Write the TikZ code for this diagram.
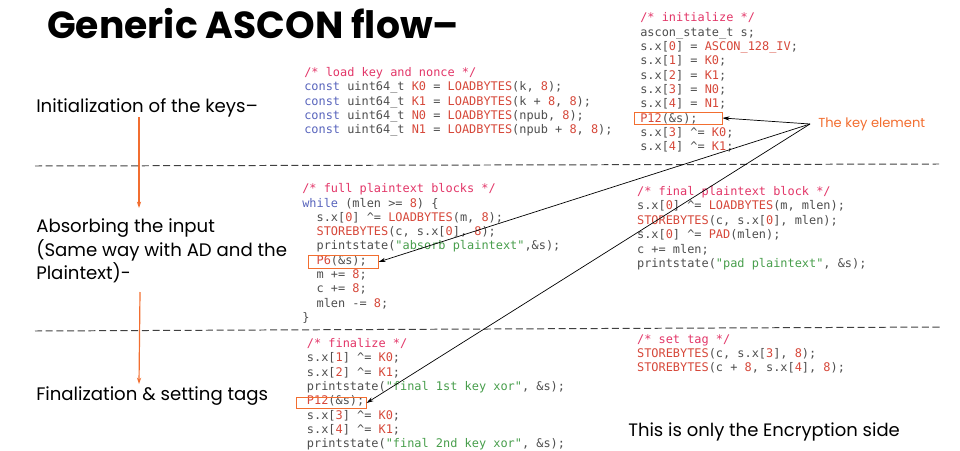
\documentclass[tikz,border=0pt]{standalone}
\usepackage{fontspec}
\setmainfont{Poppins}
\newfontfamily\codefont{DejaVu Sans Mono}
\usetikzlibrary{arrows.meta}

\definecolor{ccomment}{RGB}{226,54,104}
\definecolor{ckeyword}{RGB}{88,100,188}
\definecolor{cred}{RGB}{214,72,58}
\definecolor{cstring}{RGB}{72,158,76}
\definecolor{cplain}{RGB}{78,78,78}
\definecolor{corange}{RGB}{242,110,48}

\newcommand\ccom[1]{\textcolor{ccomment}{#1}}
\newcommand\ckw[1]{\textcolor{ckeyword}{#1}}
\newcommand\cnum[1]{\textcolor{cred}{#1}}
\newcommand\cstr[1]{\textcolor{cstring}{#1}}
\newcommand\ind{\hphantom{xx}}
\newcommand\xoreq{\textasciicircum=}

\tikzset{
  code/.style={anchor=base west,inner sep=0pt,text=cplain,
    font=\codefont\fontsize{8.47pt}{10pt}\selectfont},
  label/.style={anchor=base west,inner sep=0pt,font=\fontsize{12.9pt}{16.7pt}\selectfont},
  keybox/.style={draw=corange,line width=0.7pt,inner sep=0pt},
  keyarrow/.style={-{Stealth[length=5pt,width=3pt]},line width=0.5pt},
  flowarrow/.style={corange,-{Stealth[length=4.5pt,width=3pt]},line width=0.85pt},
  divider/.style={black!75,line width=0.7pt,dash pattern=on 5pt off 2.6pt}
}

\begin{document}
\begin{tikzpicture}
  \useasboundingbox (0,0) rectangle (24,11.25);
  % titles and stage names
  \node[anchor=base west,inner sep=0pt,font=\fontsize{26.8pt}{32pt}\selectfont\bfseries]
    (title) at (1.175,10.275) {Generic ASCON flow–};
  \node[label] (stage1) at (0.9,8.45) {Initialization of the keys–};
  \node[label,anchor=north west,align=left] (stage2) at (0.9,5.78)
    {Absorbing the input\\(Same way with AD and the\\Plaintext)-};
  \node[label] (stage3) at (0.9,1.25) {Finalization \& setting tags};
  \node[label,font=\fontsize{12.8pt}{16pt}\selectfont] (note) at (15.7,0.35)
    {This is only the Encryption side};

  % flow between stages
  \coordinate (f1s) at (3.475,8.325);
  \coordinate (f1e) at (3.475,6.05);
  \coordinate (f2s) at (3.5,3.95);
  \coordinate (f2e) at (3.475,1.65);
  \draw[flowarrow] (f1s) -- (f1e);
  \draw[flowarrow] (f2s) -- (f2e);

  % stage dividers
  \coordinate (d1l) at (0.875,7.1);
  \coordinate (d1r) at (23.475,7.15);
  \coordinate (d2l) at (0.875,2.975);
  \coordinate (d2r) at (23.55,3.075);
  \draw[divider] (d1l) -- (d1r);
  \draw[divider] (d2l) -- (d2r);

  % load key and nonce
  \foreach \txt [count=\i] in {
    {\ccom{/* load key and nonce */}},
    {\ckw{const} uint64\_t \cnum{K0} = \cnum{LOADBYTES}(k, \cnum{8});},
    {\ckw{const} uint64\_t \cnum{K1} = \cnum{LOADBYTES}(k + \cnum{8}, \cnum{8});},
    {\ckw{const} uint64\_t \cnum{N0} = \cnum{LOADBYTES}(npub, \cnum{8});},
    {\ckw{const} uint64\_t \cnum{N1} = \cnum{LOADBYTES}(npub + \cnum{8}, \cnum{8});}}
    \node[code] (load\i) at (7.6,{9.333-(\i-1)*0.357}) {\txt};

  % initialize
  \foreach \txt [count=\i] in {
    {\ccom{/* initialize */}},
    {ascon\_state\_t s;},
    {s.x[\cnum{0}] = \cnum{ASCON\_128\_IV};},
    {s.x[\cnum{1}] = \cnum{K0};},
    {s.x[\cnum{2}] = \cnum{K1};},
    {s.x[\cnum{3}] = \cnum{N0};},
    {s.x[\cnum{4}] = \cnum{N1};},
    {\cnum{P12}(\&s);},
    {s.x[\cnum{3}] \xoreq{} \cnum{K0};},
    {s.x[\cnum{4}] \xoreq{} \cnum{K1};}}
    \node[code] (init\i) at (16.0,{10.708-(\i-1)*0.359}) {\txt};

  % full plaintext blocks
  \foreach \txt [count=\i] in {
    {\ccom{/* full plaintext blocks */}},
    {\ckw{while} (mlen >= \cnum{8}) \{},
    {\ind s.x[\cnum{0}] \xoreq{} \cnum{LOADBYTES}(m, \cnum{8});},
    {\ind \cnum{STOREBYTES}(c, s.x[\cnum{0}], \cnum{8});},
    {\ind printstate(\cstr{"absorb plaintext"},\&s);},
    {\ind \cnum{P6}(\&s);},
    {\ind m += \cnum{8};},
    {\ind c += \cnum{8};},
    {\ind mlen -= \cnum{8};},
    {\}}}
    \node[code] (absorb\i) at (7.55,{6.433-(\i-1)*0.358}) {\txt};

  % final plaintext block
  \foreach \txt [count=\i] in {
    {\ccom{/* final plaintext block */}},
    {s.x[\cnum{0}] \xoreq{} \cnum{LOADBYTES}(m, mlen);},
    {\cnum{STOREBYTES}(c, s.x[\cnum{0}], mlen);},
    {s.x[\cnum{0}] \xoreq{} \cnum{PAD}(mlen);},
    {c += mlen;},
    {printstate(\cstr{"pad plaintext"}, \&s);}}
    \node[code] (pad\i) at (15.92,{6.375-(\i-1)*0.363}) {\txt};

  % finalize
  \foreach \txt [count=\i] in {
    {\ccom{/* finalize */}},
    {s.x[\cnum{1}] \xoreq{} \cnum{K0};},
    {s.x[\cnum{2}] \xoreq{} \cnum{K1};},
    {printstate(\cstr{"final 1st key xor"}, \&s);},
    {\cnum{P12}(\&s);},
    {s.x[\cnum{3}] \xoreq{} \cnum{K0};},
    {s.x[\cnum{4}] \xoreq{} \cnum{K1};},
    {printstate(\cstr{"final 2nd key xor"}, \&s);}}
    \node[code] (final\i) at (7.667,{2.558-(\i-1)*0.357}) {\txt};

  % set tag
  \foreach \txt [count=\i] in {
    {\ccom{/* set tag */}},
    {\cnum{STOREBYTES}(c, s.x[\cnum{3}], \cnum{8});},
    {\cnum{STOREBYTES}(c + \cnum{8}, s.x[\cnum{4}], \cnum{8});}}
    \node[code] (tag\i) at (15.92,{2.675-(\i-1)*0.358}) {\txt};

  % the permutation calls
  \node[keybox,minimum width=2.2cm,minimum height=0.3cm] (kbinit) at (16.95,8.3) {};
  \node[keybox,minimum width=1.75cm,minimum height=0.315cm] (kbabsorb) at (8.575,4.7) {};
  \node[keybox,minimum width=1.75cm,minimum height=0.26cm] (kbfinal) at (8.275,1.175) {};
  \node[anchor=west,inner sep=0pt,inner xsep=0.2cm,text=corange,font=\fontsize{9.3pt}{11pt}\selectfont]
    (keyelem) at (20.25,8.15) {The key element};
  \draw[keyarrow] (keyelem.west) -- (kbinit.east);
  \draw[keyarrow] (keyelem.west) -- (kbabsorb.east);
  \draw[keyarrow] (keyelem.west) -- (kbfinal.east);
\end{tikzpicture}
\end{document}
